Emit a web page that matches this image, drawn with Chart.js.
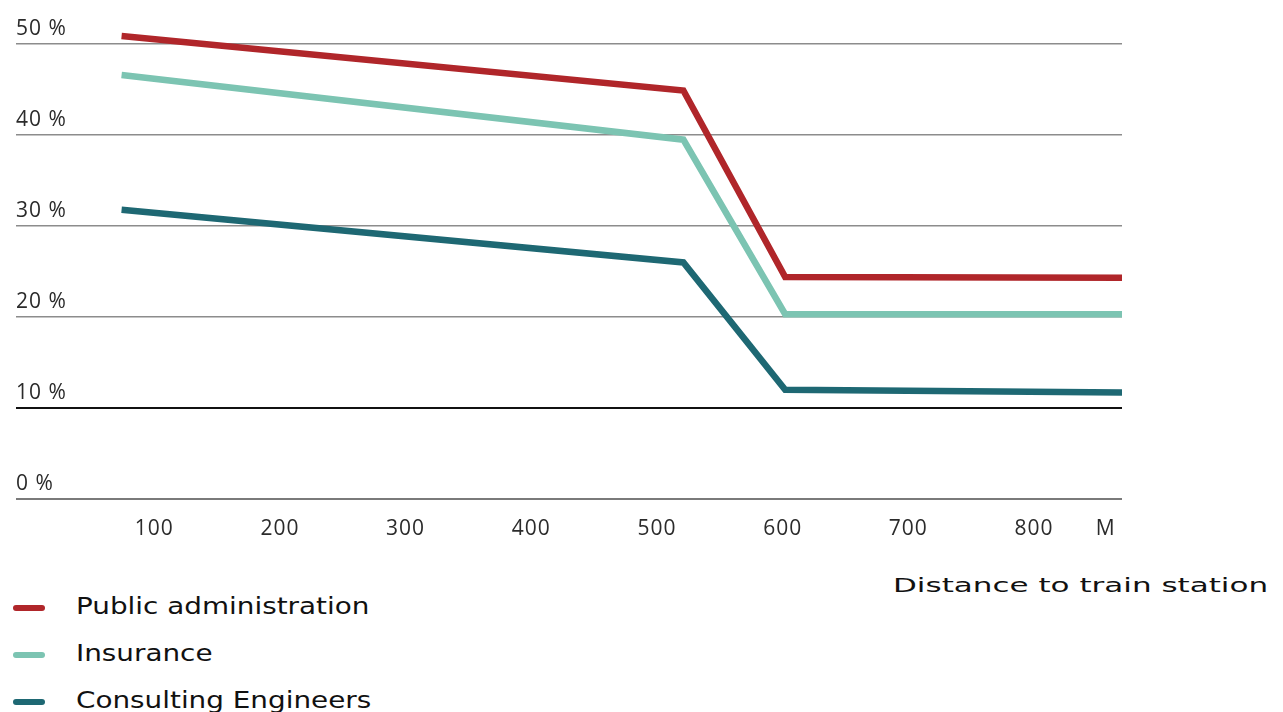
<!DOCTYPE html>
<html>
<head>
<meta charset="utf-8">
<script src="https://cdn.jsdelivr.net/npm/chart.js@4.4.1/dist/chart.umd.min.js"></script>
<style>
  html, body { margin: 0; padding: 0; background: #fff; }
  #wrap { position: relative; width: 1283px; height: 712px; overflow: hidden; }
  #box { position: absolute; left: 0; top: 0; width: 1283px; height: 560px; }
  #axisTitle {
    position: absolute; left: 893px; top: 573px;
    font-family: "DejaVu Sans", Verdana, sans-serif; font-size: 20px; color: #111;
    white-space: nowrap; transform-origin: 0 0; transform: scaleX(1.55);
  }
  #legend { position: absolute; left: 13px; top: 591px; }
  .item { position: relative; height: 47px; white-space: nowrap; }
  .swatch { position: absolute; left: 0; top: 14px; width: 32px; height: 6px; border-radius: 3px; }
  .label {
    position: absolute; left: 63px; top: 2px;
    font-family: "DejaVu Sans", Verdana, sans-serif; font-size: 23px; color: #111;
    transform-origin: 0 0; transform: scaleX(1.21);
  }
</style>
</head>
<body>
<div id="wrap">
  <div id="box"><canvas id="chart"></canvas></div>
  <div id="axisTitle">Distance to train station</div>
  <div id="legend"></div>
</div>
<script>
// Distance from the train station (metres) at each measured point
const distances = [74, 521, 602, 870];

// Share of employees per sector (%)
const publicAdministration = [50.9, 44.9, 24.4, 24.3];
const insurance = [46.6, 39.5, 20.3, 20.3];
const consultingEngineers = [31.8, 26.0, 12.0, 11.7];

const seriesNames = ['Public administration', 'Insurance', 'Consulting Engineers'];
const seriesColors = ['#b0262a', '#7cc4b2', '#1e6873'];

// Axis ticks
const xTickValues = [100, 200, 300, 400, 500, 600, 700, 800, 857];
const xUnitLabel = 'M';
const yTickValues = [0, 10, 20, 30, 40, 50];

const seriesValues = [publicAdministration, insurance, consultingEngineers];

const datasets = seriesNames.map((name, i) => ({
  label: name,
  data: distances.map((d, j) => ({ x: d, y: seriesValues[i][j] })),
  borderColor: seriesColors[i],
  backgroundColor: seriesColors[i],
  borderWidth: 6.5,
  pointRadius: 0,
  tension: 0,
  borderJoinStyle: 'miter',
  borderCapStyle: 'butt',
  fill: false
}));

const tickFont = { family: '"Open Sans", sans-serif', size: 21 };

// Slightly widened tick lettering
const tickSpacing = {
  id: 'tickSpacing',
  beforeDraw(chart) { chart.ctx.letterSpacing = '1px'; },
  afterDraw(chart) { chart.ctx.letterSpacing = '0px'; }
};

const chart = new Chart(document.getElementById('chart'), {
  type: 'line',
  data: { datasets },
  plugins: [tickSpacing],
  options: {
    responsive: true,
    maintainAspectRatio: false,
    animation: false,
    layout: { padding: { left: 16, right: 161, top: 26, bottom: 0 } },
    plugins: {
      legend: { display: false },
      tooltip: { enabled: false }
    },
    scales: {
      x: {
        type: 'linear',
        min: -10,
        max: 870,
        afterBuildTicks: (axis) => { axis.ticks = xTickValues.map(v => ({ value: v })); },
        ticks: {
          padding: 18,
          color: '#2b2b2b',
          font: tickFont,
          maxRotation: 0,
          autoSkip: false,
          callback: (v) => (v === xTickValues[xTickValues.length - 1] ? xUnitLabel : String(v))
        },
        grid: { display: false, drawTicks: false },
        border: { display: false }
      },
      y: {
        type: 'linear',
        min: 0,
        max: 52,
        afterBuildTicks: (axis) => { axis.ticks = yTickValues.map(v => ({ value: v })); },
        ticks: {
          mirror: true,
          padding: 0,
          labelOffset: -15,
          color: '#2b2b2b',
          font: tickFont,
          callback: (v) => v + ' %'
        },
        grid: {
          drawTicks: false,
          color: (c) => (c.tick && c.tick.value === 10 ? '#111' : (c.tick && c.tick.value === 0 ? '#7a7a7a' : '#8c8c8c')),
          lineWidth: (c) => (c.tick && (c.tick.value === 10 || c.tick.value === 0) ? 2 : 1.5)
        },
        border: { display: false }
      }
    }
  }
});

// Vertical legend built from the chart's datasets
const legendEl = document.getElementById('legend');
chart.data.datasets.forEach((ds) => {
  const item = document.createElement('div');
  item.className = 'item';
  const sw = document.createElement('div');
  sw.className = 'swatch';
  sw.style.background = ds.borderColor;
  const lb = document.createElement('div');
  lb.className = 'label';
  lb.textContent = ds.label;
  item.appendChild(sw);
  item.appendChild(lb);
  legendEl.appendChild(item);
});
</script>
</body>
</html>
